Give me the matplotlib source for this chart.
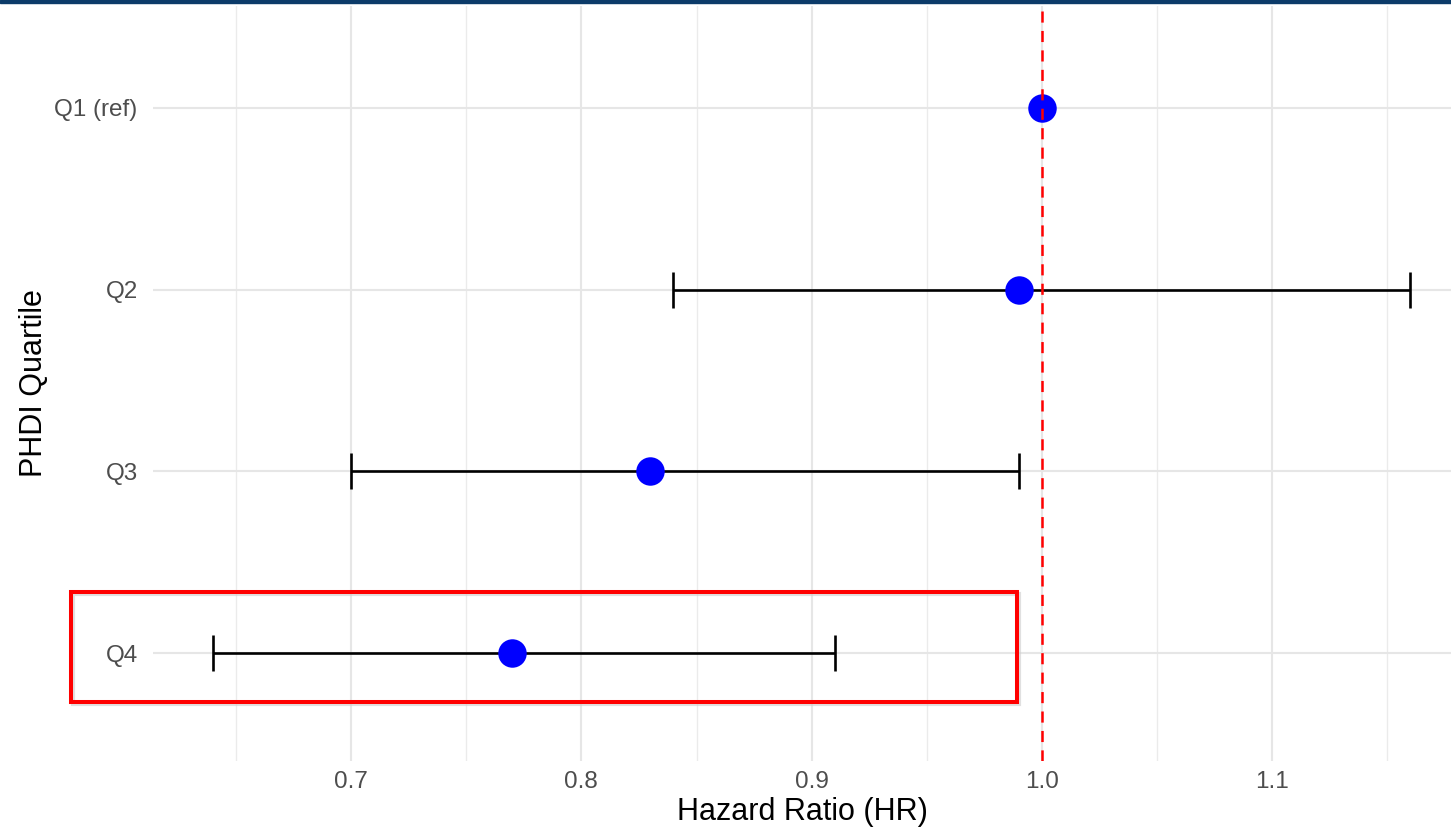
import numpy as np
import matplotlib
matplotlib.use("Agg")
import matplotlib.pyplot as plt
from matplotlib.patches import Rectangle
from matplotlib.ticker import MultipleLocator

# forest plot data (HR with 95% CI), Q1 is the reference group
quartiles = ["Q1 (ref)", "Q2", "Q3", "Q4"]
hr = [1.00, 0.99, 0.83, 0.77]
ci_low = [np.nan, 0.84, 0.70, 0.64]
ci_high = [np.nan, 1.16, 0.99, 0.91]
x_ticks = [0.7, 0.8, 0.9, 1.0, 1.1]

plt.rcParams["font.family"] = ["Liberation Sans", "DejaVu Sans"]
plt.rcParams["lines.scale_dashes"] = False

W, H = 1451, 834
fig = plt.figure(figsize=(W / 100, H / 100), dpi=100)
ax = fig.add_axes([153 / W, 1 - 761 / H, 1 - 153 / W, (761 - 6) / H])

ypos = np.arange(len(quartiles))[::-1]
hr = np.array(hr)
lo = np.array(ci_low)
hi = np.array(ci_high)
has_ci = ~np.isnan(lo)

ax.errorbar(hr[has_ci], ypos[has_ci],
            xerr=[hr[has_ci] - lo[has_ci], hi[has_ci] - hr[has_ci]],
            fmt="none", ecolor="black", elinewidth=1.9, capsize=13, capthick=1.9, zorder=3)
ax.plot(hr, ypos, "o", color="#0000ff", markersize=20.5, markeredgewidth=0, zorder=4)
ax.axvline(1.0, color="red", lw=1.8, dashes=(8, 6), zorder=5)

ax.set_xlim(0.614, 1.1776)
ax.set_ylim(-0.594, len(quartiles) - 1 + 0.561)
ax.set_xticks(x_ticks)
ax.xaxis.set_minor_locator(MultipleLocator(0.05))
ax.set_yticks(ypos)
ax.set_yticklabels(quartiles)

ax.grid(which="major", color="#e6e6e6", lw=1.5)
ax.grid(which="minor", axis="x", color="#ebebeb", lw=1.0)
ax.set_axisbelow(True)
for s in ax.spines.values():
    s.set_visible(False)
ax.tick_params(which="both", length=0)
ax.tick_params(axis="x", labelsize=17.5, labelcolor="#4d4d4d", pad=7)
ax.tick_params(axis="y", labelsize=17.5, labelcolor="#4d4d4d", pad=11)

ax.set_xlabel("Hazard Ratio (HR)", fontsize=22, color="black", labelpad=3)
ax.set_ylabel("PHDI Quartile", fontsize=22, color="black", labelpad=4)

# navy strip along the top edge of the screenshot
fig.patches.append(Rectangle((0, 1 - 2.5 / H), 1, 2.5 / H, transform=fig.transFigure,
                             color="#0c3b69", zorder=10))

# highlight box around Q4
fig.patches.append(Rectangle((73 / W, 1 - 704 / H), 946 / W, 110 / H, transform=fig.transFigure,
                             fill=False, edgecolor="#cccccc", lw=3, alpha=0.6, zorder=9))
fig.patches.append(Rectangle((71 / W, 1 - 702 / H), 946 / W, 110 / H, transform=fig.transFigure,
                             fill=False, edgecolor="red", lw=2.9, zorder=10))

fig.savefig("out.png", dpi=100)
